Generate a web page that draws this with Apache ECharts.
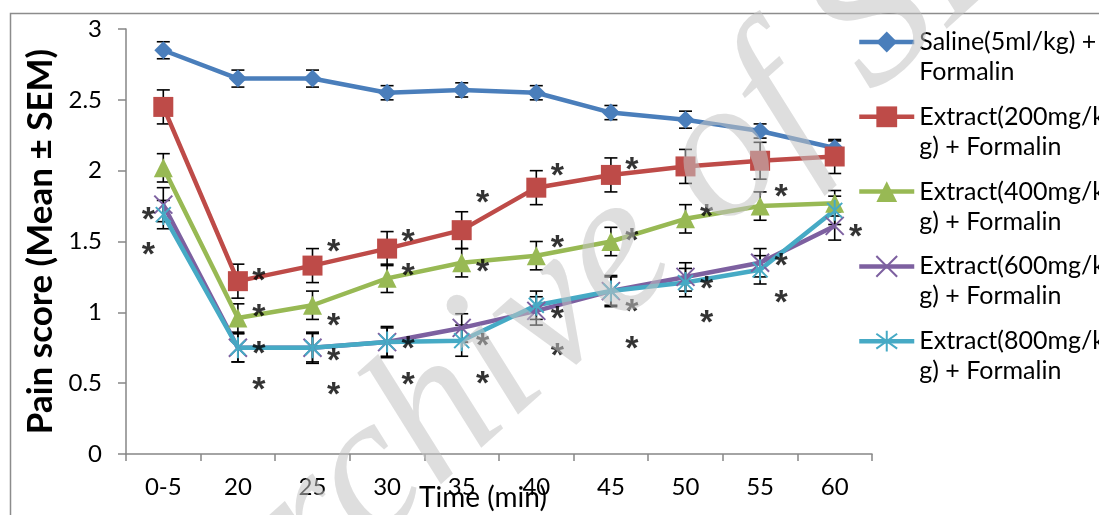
<!DOCTYPE html>
<html><head><meta charset="utf-8">
<script src="https://cdn.jsdelivr.net/npm/echarts@6/dist/echarts.min.js"></script>
<style>html,body{margin:0;padding:0;background:#fff}#c{width:1099px;height:515px}</style>
</head><body><div id="c"></div>
<script>
const categories = ['0-5','20','25','30','35','40','45','50','55','60'];
const seriesNames = ['Saline(5ml/kg) + Formalin','Extract(200mg/kg) + Formalin','Extract(400mg/kg) + Formalin','Extract(600mg/kg) + Formalin','Extract(800mg/kg) + Formalin'];
const legendLabels = ['Saline(5ml/kg) +\nFormalin','Extract(200mg/k\ng) + Formalin','Extract(400mg/k\ng) + Formalin','Extract(600mg/k\ng) + Formalin','Extract(800mg/k\ng) + Formalin'];
const saline    = [2.85, 2.65, 2.65, 2.55, 2.57, 2.55, 2.41, 2.36, 2.28, 2.16];
const salineErr = [0.06, 0.06, 0.06, 0.05, 0.05, 0.05, 0.05, 0.06, 0.05, 0.05];
const ext200    = [2.45, 1.22, 1.33, 1.45, 1.58, 1.88, 1.97, 2.03, 2.07, 2.10];
const ext200Err = [0.12, 0.12, 0.12, 0.12, 0.13, 0.12, 0.12, 0.12, 0.13, 0.12];
const ext400    = [2.02, 0.96, 1.05, 1.24, 1.35, 1.40, 1.50, 1.66, 1.75, 1.77];
const ext400Err = [0.10, 0.10, 0.10, 0.10, 0.10, 0.10, 0.10, 0.10, 0.10, 0.09];
const ext600    = [1.76, 0.75, 0.75, 0.79, 0.89, 1.01, 1.15, 1.25, 1.35, 1.61];
const ext600Err = [0.12, 0.10, 0.10, 0.10, 0.10, 0.10, 0.10, 0.10, 0.10, 0.10];
const ext800    = [1.69, 0.75, 0.75, 0.79, 0.80, 1.05, 1.15, 1.21, 1.30, 1.72];
const ext800Err = [0.10, 0.10, 0.11, 0.11, 0.11, 0.10, 0.11, 0.10, 0.10, 0.10];
// significance markers: [category index, y value]
const asterisks = [
  [0,1.715],[0,1.468],
  [1,1.29],[1,1.03],[1,0.77],[1,0.52],
  [2,1.49],[2,0.97],[2,0.72],[2,0.48],
  [3,1.56],[3,1.32],[3,0.81],[3,0.55],
  [4,1.84],[4,1.35],[4,0.83],[4,0.56],
  [5,2.03],[5,1.52],[5,1.02],[5,0.76],
  [6,2.07],[6,1.57],[6,1.07],[6,0.81],
  [7,1.74],[7,1.23],[7,0.99],
  [8,1.88],[8,1.39],[8,1.13],
  [9,1.60]
];
const yMin = 0, yMax = 3, yInterval = 0.5;

const values = [saline, ext200, ext400, ext600, ext800];
const errors = [salineErr, ext200Err, ext400Err, ext600Err, ext800Err];
const colors = ['#4A7EBB','#BE4B48','#98B954','#7D60A0','#46AAC5'];
const symbols = ['diamond','rect','triangle','path://M0,0L10,10M10,0L0,10','path://M0,2L10,12M10,2L0,12M5,0L5,14'];
const symbolSizes = [18, 20, 19, 18, 21];
const FONT = 'Lato, "Open Sans", sans-serif';

const chart = echarts.init(document.getElementById('c'), null, {renderer:'canvas'});

const series = [];
values.forEach((vals, s) => {
  series.push({
    type:'custom', name:'err'+s, silent:true, z:2,
    data: vals.map((v,i)=>[i, v, errors[s][i]]),
    renderItem(params, api){
      const i = api.value(0), v = api.value(1), e = api.value(2);
      const t = api.coord([i, v+e]), b = api.coord([i, v-e]);
      const w = 6.5;
      const st = {stroke:'#000', lineWidth:1.6};
      return {type:'group', children:[
        {type:'line', shape:{x1:t[0],y1:t[1],x2:b[0],y2:b[1]}, style:st},
        {type:'line', shape:{x1:t[0]-w,y1:t[1],x2:t[0]+w,y2:t[1]}, style:st},
        {type:'line', shape:{x1:b[0]-w,y1:b[1],x2:b[0]+w,y2:b[1]}, style:st}
      ]};
    }
  });
});
values.forEach((vals, s) => {
  const isPath = s >= 3;
  series.push({
    type:'line', name: seriesNames[s], data: vals, z:3,
    symbol: symbols[s], symbolSize: symbolSizes[s], symbolKeepAspect:true,
    showAllSymbol:true,
    lineStyle:{color:colors[s], width:4.5},
    itemStyle: isPath ? {color:colors[s], borderColor:colors[s], borderWidth:2} : {color:colors[s], borderWidth:0},
    emphasis:{disabled:true}
  });
});
series.push({
  type:'scatter', name:'sig', silent:true, z:5,
  symbol:'circle', symbolSize:1, itemStyle:{color:'rgba(0,0,0,0)'},
  data: asterisks.map(a => ({value:a, label:{offset:[a[0]===0 ? -15 : 21, 10]}})),
  label:{show:true, position:'inside', formatter:'*', fontSize:34, fontWeight:'bold', color:'#000', fontFamily:'"Liberation Sans", Arial, sans-serif'}
});

const legendFirst = -3, legendStep = 74.8;
const legends = seriesNames.map((n, i) => ({
  data:[n], left:857, top: legendFirst + i*legendStep, orient:'vertical', padding:0,
  itemWidth:55, itemHeight:26, itemGap:0, selectedMode:false,
  lineStyle:{width:4.5},
  formatter: () => '\u00a0\n' + legendLabels[i],
  textStyle:{fontSize:25, lineHeight:30, color:'#000', fontFamily:FONT}
}));

chart.setOption({
  backgroundColor:'#fff',
  animation:false,
  grid:{left:126, right:227, top:29, bottom:61, containLabel:false, outerBoundsMode:'none'},
  xAxis:{
    type:'category', data:categories, boundaryGap:true,
    axisLine:{lineStyle:{color:'#868686', width:1.5}},
    axisTick:{show:true, length:7, lineStyle:{color:'#868686', width:1.5}},
    axisLabel:{fontSize:24, color:'#000', margin:21, fontFamily:FONT},
    name:'Time (min)', nameLocation:'middle', nameGap:30, nameMoveOverlap:false,
    nameTextStyle:{fontSize:28, color:'#000', fontFamily:FONT, padding:[0,32,0,0]}
  },
  yAxis:{
    type:'value', min:yMin, max:yMax, interval:yInterval,
    splitLine:{show:false},
    axisLine:{show:true, lineStyle:{color:'#868686', width:1.5}},
    axisTick:{show:true, length:8, lineStyle:{color:'#868686', width:1.5}},
    axisLabel:{fontSize:24, color:'#000', margin:24, fontFamily:FONT},
    name:'Pain score (Mean ± SEM)', nameLocation:'middle', nameRotate:90, nameGap:68, nameMoveOverlap:false,
    nameTextStyle:{fontSize:35, fontWeight:'bold', color:'#000', fontFamily:FONT}
  },
  legend: legends,
  series: series,
  graphic:[
    {type:'rect', z:-1, silent:true, shape:{x:10.5, y:13.5, width:1100, height:520}, style:{fill:'none', stroke:'#8c8c8c', lineWidth:1.5}},
    {type:'text', z:100, silent:true, x:630, y:243, rotation:42*Math.PI/180,
     style:{text:'Archive of SID', font:'italic 200px "Liberation Serif", "DejaVu Serif", serif', fill:'rgba(195,195,195,0.55)', align:'center', verticalAlign:'middle'}}
  ]
});
</script></body></html>
